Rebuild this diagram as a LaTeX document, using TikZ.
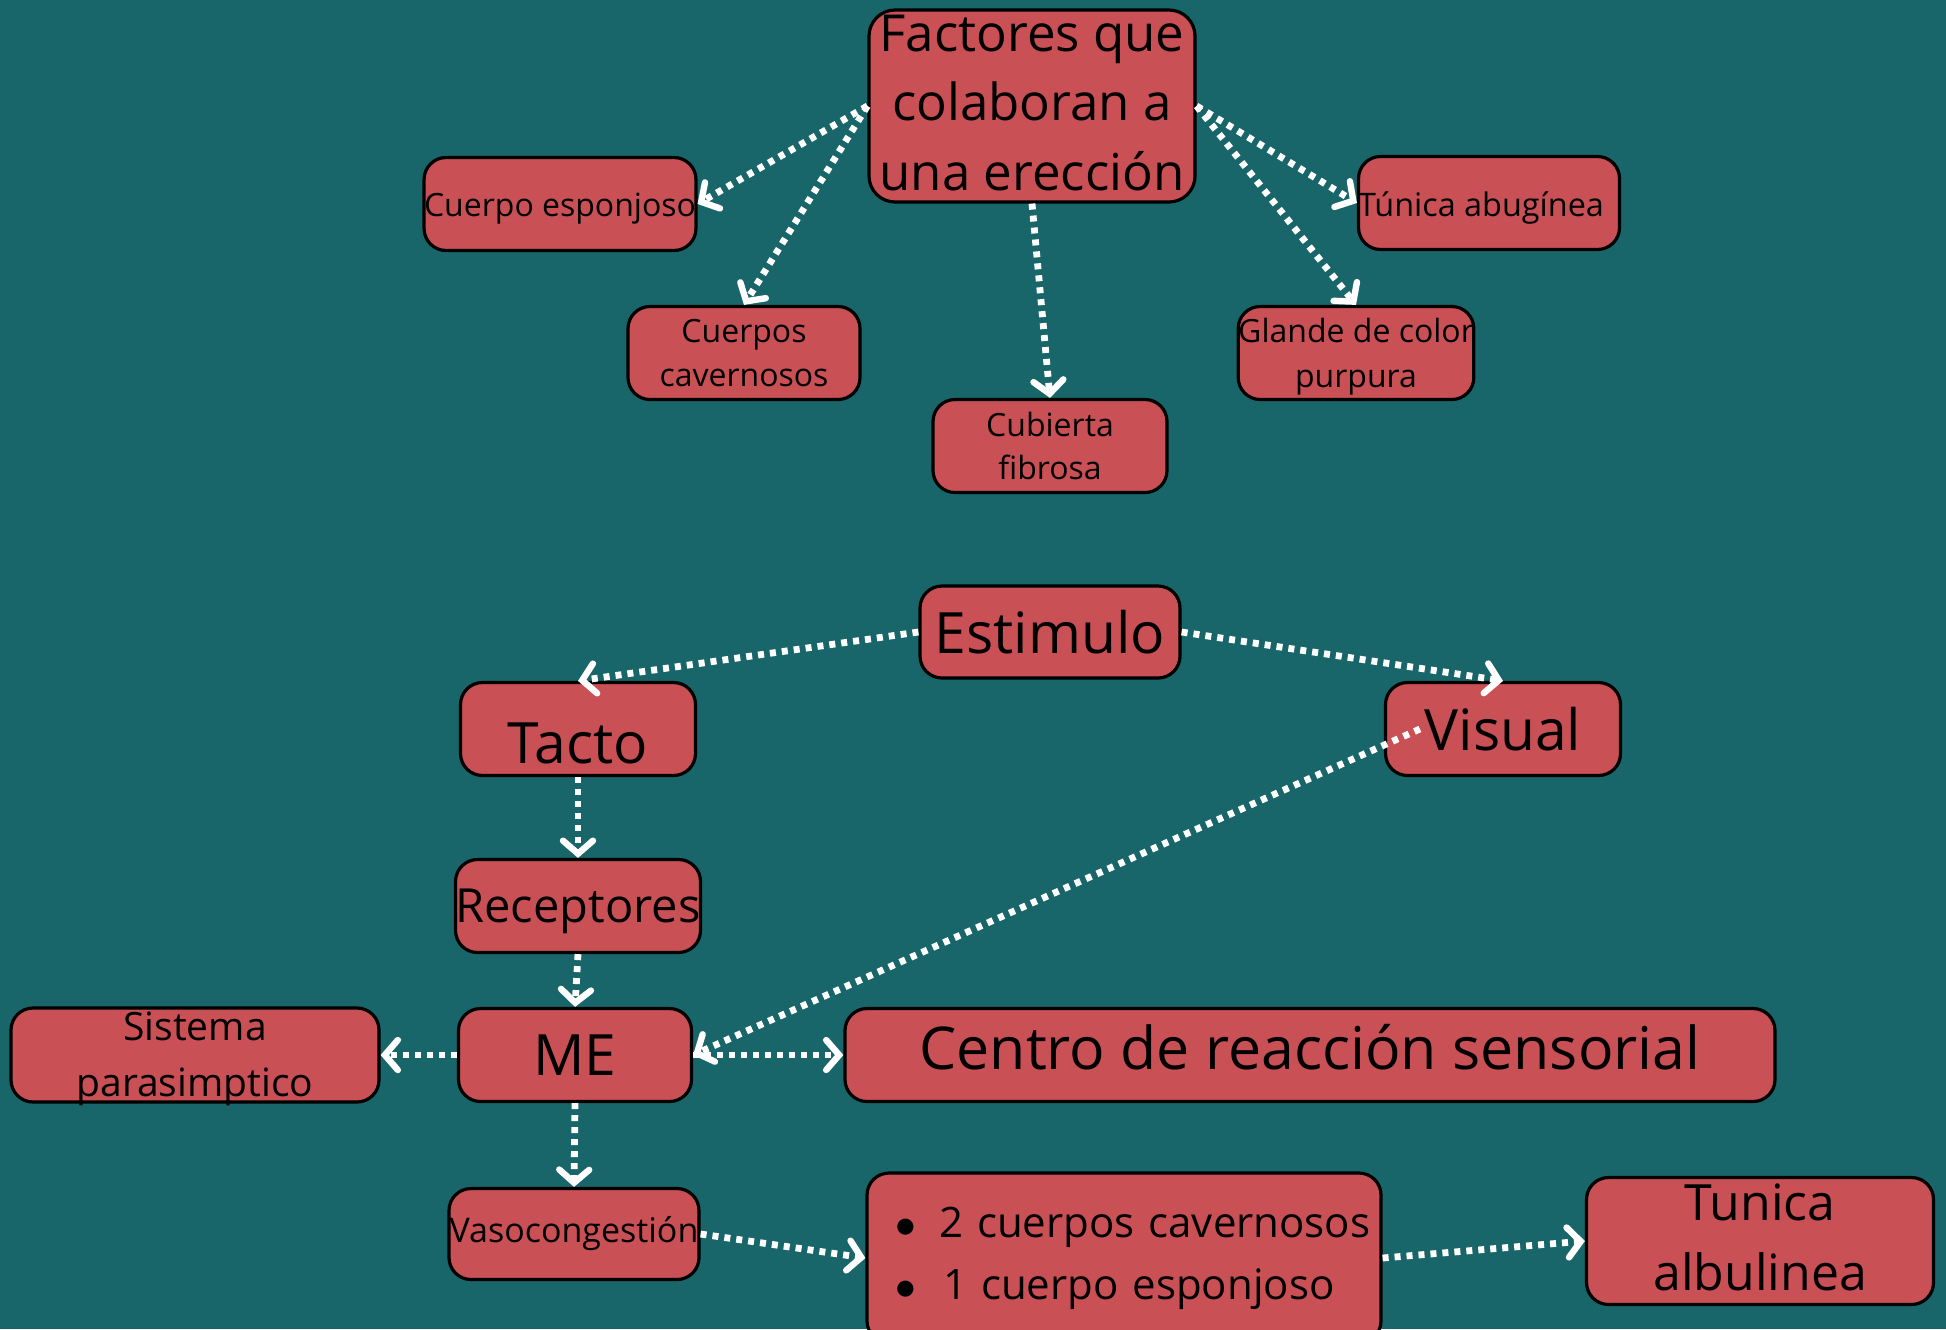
\documentclass[tikz,border=0pt]{standalone}
\usepackage{fontspec}
\setmainfont{Open Sans}
\usetikzlibrary{arrows.meta}
\definecolor{fondo}{HTML}{19666A}
\definecolor{rojo}{HTML}{C95055}
\newcommand{\mover}[2]{\raisebox{#1}[\height][\depth]{#2}}
\tikzset{
  caja/.style={draw=black, line width=1.6pt, fill=rojo, rounded corners=11pt,
    inner sep=0pt, align=center, text=black, minimum height=46.5pt},
  flecha/.style={draw=white, line width=3.4pt, dash pattern=on 3pt off 3pt,
    -{Straight Barb[length=6.5pt,width=15pt,line width=3.2pt,line cap=round]}},
}
\begin{document}
\begin{tikzpicture}[x=0.5pt,y=-0.5pt]
        % Fondo
        \fill[fondo] (0,0) rectangle (1946,1329);
        \useasboundingbox (0,0) rectangle (1946,1329);

        % Factores
        \node[caja, minimum width=163pt, minimum height=96pt, rounded corners=13pt,
          font=\fontsize{25.5}{34.6}\selectfont] (fac) at (1032,106) {\mover{1.5pt}{Factores que}\\\mover{1.5pt}{colaboran a}\\\mover{1.5pt}{una erección}};
        \node[caja, minimum width=135.5pt, font=\fontsize{16}{21.7}\selectfont] (esp) at (560,204) {\mover{-2.5pt}{Cuerpo esponjoso}};
        \node[caja, minimum width=116pt, font=\fontsize{16}{21.7}\selectfont] (cav) at (744,353) {Cuerpos\\cavernosos};
        \node[caja, minimum width=117pt, font=\fontsize{16}{21.7}\selectfont] (cub) at (1050,446) {Cubierta\\fibrosa};
        \node[caja, minimum width=130.5pt, font=\fontsize{16.2}{21.7}\selectfont] (tun) at (1489,203) {\mover{-2.5pt}{\hspace*{-8pt}Túnica abugínea}};
        \node[caja, minimum width=116.5pt, font=\fontsize{16}{22.5}\selectfont] (gla) at (1356,353) {\mover{-2pt}{Glande de color}\\\mover{-2pt}{purpura}};

        % Estimulo
        \node[caja, minimum width=130pt, minimum height=46pt, font=\fontsize{28.5}{34}\selectfont] (est) at (1050,632) {Estimulo};
        \node[caja, minimum width=117.5pt, font=\fontsize{28.5}{34}\selectfont] (tac) at (578,729) {\mover{-7pt}{Tacto}};
        \node[caja, minimum width=117.5pt, font=\fontsize{28.5}{34}\selectfont] (vis) at (1503,729) {Visual};
        \node[caja, minimum width=117.5pt, font=\fontsize{23.5}{30}\selectfont] (rec) at (578,906) {\mover{-2.5pt}{Receptores}};
        \node[caja, minimum width=116.5pt, font=\fontsize{28.5}{34}\selectfont] (me) at (575,1055) {ME};
        \node[caja, minimum width=184pt, font=\fontsize{19.5}{28}\selectfont] (sis) at (195,1055) {\mover{-2pt}{Sistema}\\\mover{-2pt}{parasimptico}};
        \node[caja, minimum width=465pt, font=\fontsize{29.5}{34}\selectfont] (cen) at (1310,1055) {\mover{4pt}{Centro de reacción sensorial}};
        \node[caja, minimum width=125pt, minimum height=45.5pt, font=\fontsize{17}{22}\selectfont] (vas) at (574,1234) {Vasocongestión};
        \node[caja, text width=257pt, minimum height=85pt, align=left, font=\fontsize{21}{31}\selectfont] (bul) at (1124,1258)
          {\hspace*{14pt}\makebox[22pt][l]{$\bullet$}2 cuerpos cavernosos\\\hspace*{14pt}\makebox[22pt][l]{$\bullet$}\hspace{2pt}1 cuerpo esponjoso};
        \node[caja, minimum width=173.5pt, minimum height=63.5pt, font=\fontsize{25}{35}\selectfont] (alb) at (1760,1241) {\mover{2pt}{Tunica}\\\mover{2pt}{albulinea}};

        % Flechas
        \draw[flecha] (fac.west) -- (esp.east);
        \draw[flecha] (fac.west) -- (cav.north);
        \draw[flecha] (fac.south) -- (cub.north);
        \draw[flecha] (fac.east) -- (tun.west);
        \draw[flecha] (fac.east) -- (gla.north);
        \draw[flecha] (est.west) -- (tac.north);
        \draw[flecha] (est.east) -- (vis.north);
        \draw[flecha] (tac.south) -- (rec.north);
        \draw[flecha] (rec.south) -- (me.north);
        \draw[flecha] ([xshift=18pt]vis.west) -- (me.east);
        \draw[flecha] (me.west) -- (sis.east);
        \draw[flecha] (me.east) -- (cen.west);
        \draw[flecha] (me.south) -- (vas.north);
        \draw[flecha] (vas.east) -- (bul.west);
        \draw[flecha] (bul.east) -- (alb.west);
\end{tikzpicture}
\end{document}
